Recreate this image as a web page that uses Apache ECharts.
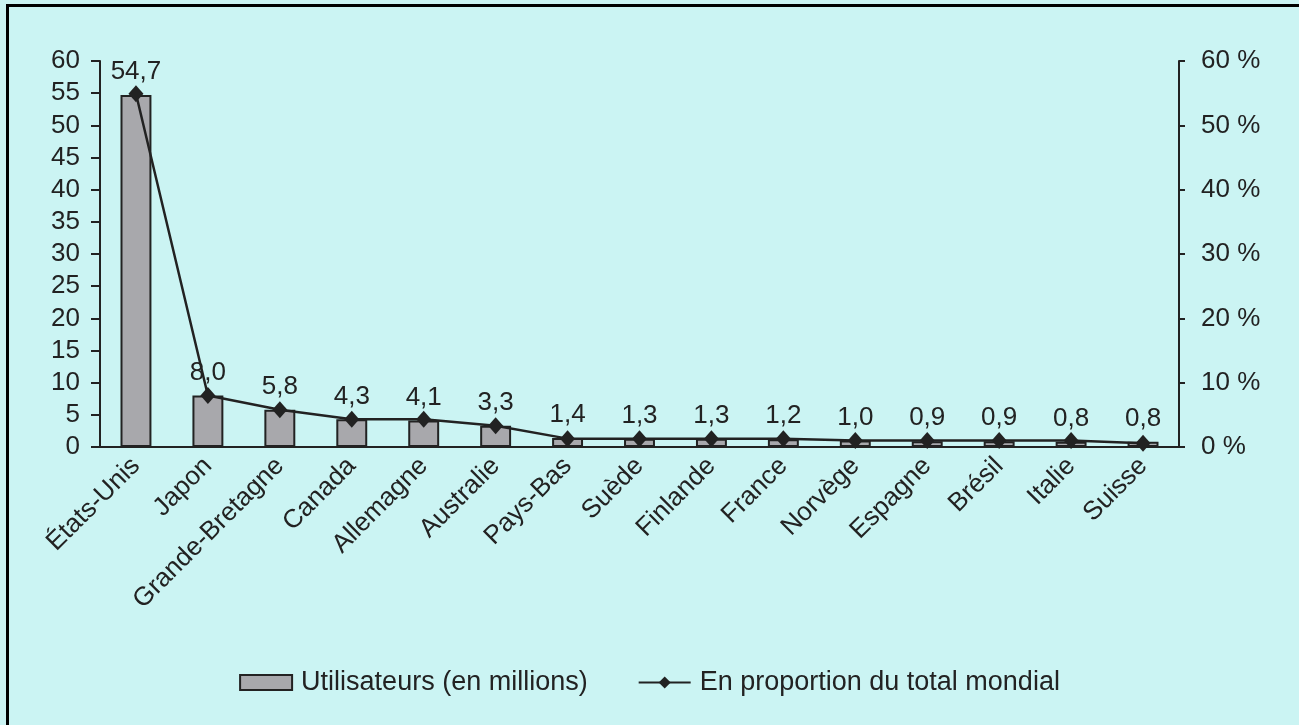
<!DOCTYPE html>
<html>
<head>
<meta charset="utf-8">
<script src="https://cdn.jsdelivr.net/npm/echarts@6/dist/echarts.min.js"></script>
<style>
  html, body { margin: 0; padding: 0; background: #cbf4f3; }
  #frame {
    position: absolute; left: 6px; top: 4px; right: 0; bottom: 0;
    border-left: 3px solid #000; border-top: 3px solid #000;
  }
  #chart { position: absolute; left: 0; top: 0; width: 1299px; height: 725px; }
</style>
</head>
<body>
<div id="frame"></div>
<div id="chart"></div>
<script>
// data
var pays = ['États-Unis', 'Japon', 'Grande-Bretagne', 'Canada', 'Allemagne', 'Australie', 'Pays-Bas',
    'Suède', 'Finlande', 'France', 'Norvège', 'Espagne', 'Brésil', 'Italie', 'Suisse'];
var utilisateurs = [54.7, 8.0, 5.8, 4.3, 4.1, 3.3, 1.4, 1.3, 1.3, 1.2, 1.0, 0.9, 0.9, 0.8, 0.8];
var proportion = [54.9, 8.0, 5.8, 4.3, 4.3, 3.3, 1.3, 1.3, 1.3, 1.3, 1.0, 1.0, 1.0, 1.0, 0.6];
var ticksGauche = [0, 60, 5];
var ticksDroite = [0, 60, 10];

var txt = '#222';
var fnt = 'Liberation Sans, Arial, sans-serif';
var fs = 26;

var chart = echarts.init(document.getElementById('chart'), null, { width: 1299, height: 725 });

chart.setOption({
    backgroundColor: 'transparent',
    animation: false,
    textStyle: { fontFamily: fnt, color: txt },
    grid: { left: 100, right: 120, top: 61, bottom: 278, containLabel: false },
    legend: {
        bottom: 24,
        left: 'center',
        itemWidth: 52,
        itemHeight: 15,
        itemGap: 50,
        textStyle: { fontSize: 27, color: txt, fontFamily: fnt, padding: [0, 0, 0, 4] },
        data: [
            { name: 'Utilisateurs (en millions)', icon: 'rect' },
            { name: 'En proportion du total mondial' }
        ]
    },
    xAxis: {
        type: 'category',
        data: pays,
        boundaryGap: true,
        axisLine: { lineStyle: { color: txt, width: 2 } },
        axisTick: { length: 17, lineStyle: { color: txt, width: 2 } },
        axisLabel: { rotate: 45, fontSize: fs, color: txt, margin: 15, interval: 0 }
    },
    yAxis: [
        {
            type: 'value',
            min: ticksGauche[0], max: ticksGauche[1], interval: ticksGauche[2],
            splitLine: { show: false },
            axisLine: { show: true, lineStyle: { color: txt, width: 2 } },
            axisTick: { show: true, length: 9, lineStyle: { color: txt, width: 2 } },
            axisLabel: { fontSize: fs, color: txt, margin: 20 }
        },
        {
            type: 'value',
            position: 'right',
            min: ticksDroite[0], max: ticksDroite[1], interval: ticksDroite[2],
            splitLine: { show: false },
            axisLine: { show: true, lineStyle: { color: txt, width: 2 } },
            axisTick: { show: true, length: 6, lineStyle: { color: txt, width: 2 } },
            axisLabel: {
                fontSize: fs, color: txt, margin: 22,
                formatter: function (v) { return v + ' %'; }
            }
        }
    ],
    series: [
        {
            name: 'Utilisateurs (en millions)',
            type: 'bar',
            yAxisIndex: 0,
            data: utilisateurs,
            barWidth: '43%',
            itemStyle: { color: '#a8a8ac', borderColor: txt, borderWidth: 2 },
            label: {
                show: true,
                position: 'top',
                distance: 10,
                fontSize: fs,
                color: txt,
                formatter: function (p) { return p.value.toFixed(1).replace('.', ','); }
            }
        },
        {
            name: 'En proportion du total mondial',
            type: 'line',
            yAxisIndex: 1,
            data: proportion,
            symbol: 'diamond',
            symbolSize: [15, 17],
            lineStyle: { color: txt, width: 2.5 },
            itemStyle: { color: txt }
        }
    ]
});
</script>
</body>
</html>
